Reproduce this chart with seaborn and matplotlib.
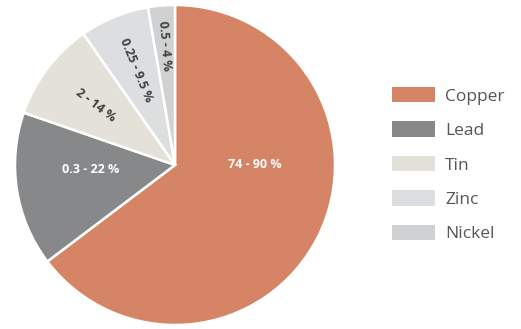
import matplotlib
matplotlib.use("Agg")
import matplotlib.pyplot as plt
import seaborn as sns
import numpy as np

metals = ["Copper", "Lead", "Tin", "Zinc", "Nickel"]
shares = [64.7, 15.6, 10.0, 7.0, 2.7]
ranges = ["74 - 90 %", "0.3 - 22 %", "2 - 14 %", "0.25 - 9.5 %", "0.5 - 4 %"]
colors = ["#D58566", "#87888A", "#E4E1D9", "#DCDEDF", "#D0D1D2"]

sns.set_theme(style="white")
plt.rcParams["font.family"] = ["Open Sans", "DejaVu Sans"]

fig = plt.figure(figsize=(5.21, 3.29), dpi=100)
ax = fig.add_axes([15/521, 4/329, 320/521, 320/329])
wedges, _ = ax.pie(shares, colors=colors, startangle=90, counterclock=False,
                   wedgeprops=dict(edgecolor="white", linewidth=1.8))
ax.set_xlim(-1, 1)
ax.set_ylim(-1, 1)
ax.set_aspect("equal")
ax.axis("off")

# label placement: (angle override in degrees or None, radius factor, rotate?, color)
label_style = [
    (0.5, 0.5, False, "white"),
    (-177, 0.53, False, "white"),
    (None, 0.62, True, "#3F3F3F"),
    (None, 0.64, True, "#3F3F3F"),
    (None, 0.75, True, "#3F3F3F"),
]
for w, txt, (ang, rf, rot, col) in zip(wedges, ranges, label_style):
    mid = (w.theta1 + w.theta2) / 2
    a = mid if ang is None else ang
    x = rf * np.cos(np.radians(a))
    y = rf * np.sin(np.radians(a))
    rotation = (mid - 180) if rot else 0
    ax.text(x, y, txt, ha="center", va="center", color=col, fontsize=9,
            fontweight="bold", rotation=rotation, rotation_mode="anchor")

leg = fig.legend(wedges, metals, loc="upper left", bbox_to_anchor=(392/521, 1 - 87/329),
                 frameon=False, borderpad=0, borderaxespad=0, fontsize=12.5,
                 handlelength=2.5, handleheight=0.98, labelspacing=0.97,
                 handletextpad=0.55, labelcolor="#555555")
for h in leg.legend_handles:
    h.set_edgecolor("none")

fig.savefig("out.png", dpi=100)
